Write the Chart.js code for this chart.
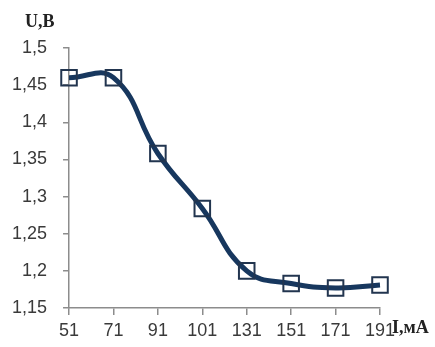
<!DOCTYPE html>
<html>
<head>
<meta charset="utf-8">
<script src="https://cdn.jsdelivr.net/npm/chart.js@4"></script>
<style>
  html, body { margin: 0; padding: 0; background: #fff; }
  #wrap { width: 435px; height: 347px; }
</style>
</head>
<body>
<div id="wrap"><canvas id="chart" width="435" height="347"></canvas></div>
<script>
const currents = ['51', '71', '91', '101', '131', '151', '171', '191'];
const voltages = [1.46, 1.46, 1.358, 1.284, 1.2, 1.183, 1.177, 1.181];
const yTicks = [1.15, 1.2, 1.25, 1.3, 1.35, 1.4, 1.45, 1.5];
const yTitle = 'U,B';
const xTitle = 'I,мА';

const lineColor = '#17375e';
const axisColor = '#8c8c8c';
const labelColor = '#3a3a3a';

// axis titles are drawn next to the axis ends, like in the original
const axisTitles = {
  id: 'axisTitles',
  afterDraw(chart) {
    const ctx = chart.ctx;
    const area = chart.chartArea;
    ctx.save();
    ctx.fillStyle = '#222';
    ctx.font = 'bold 18px "Liberation Serif", "DejaVu Serif", serif';
    ctx.textBaseline = 'alphabetic';
    ctx.textAlign = 'left';
    ctx.fillText(yTitle, 25, 27);
    ctx.fillText(xTitle, area.right + 12, area.bottom + 25);
    ctx.restore();
  }
};

const ctx = document.getElementById('chart').getContext('2d');
new Chart(ctx, {
  type: 'line',
  data: {
    labels: currents,
    datasets: [{
      data: voltages,
      borderColor: lineColor,
      borderWidth: 5,
      tension: 0.45,
      pointStyle: 'rect',
      pointRadius: 11,
      pointBorderWidth: 2,
      pointBorderColor: '#22354f',
      pointBackgroundColor: 'rgba(0,0,0,0)',
      fill: false
    }]
  },
  options: {
    responsive: false,
    animation: false,
    layout: { padding: { top: 48, right: 55, bottom: 0, left: -4 } },
    plugins: { legend: { display: false }, tooltip: { enabled: false } },
    scales: {
      x: {
        offset: false,
        grid: { display: true, drawOnChartArea: false, drawTicks: true, tickLength: 7, color: axisColor, lineWidth: 1.5 },
        border: { color: axisColor, width: 1.5 },
        ticks: {
          color: labelColor,
          font: { family: '"Liberation Sans", Arial, sans-serif', size: 18, lineHeight: 1 },
          maxRotation: 0,
          padding: 7
        }
      },
      y: {
        min: 1.15,
        max: 1.5,
        afterBuildTicks(axis) {
          axis.ticks = yTicks.map(v => ({ value: v }));
        },
        grid: { display: true, drawOnChartArea: false, drawTicks: true, tickLength: 6, color: axisColor, lineWidth: 1.5 },
        border: { color: axisColor, width: 1.5 },
        ticks: {
          color: labelColor,
          font: { family: '"Liberation Sans", Arial, sans-serif', size: 18 },
          padding: 16,
          callback: v => String(parseFloat(v.toFixed(2))).replace('.', ',')
        }
      }
    }
  },
  plugins: [axisTitles]
});
</script>
</body>
</html>
